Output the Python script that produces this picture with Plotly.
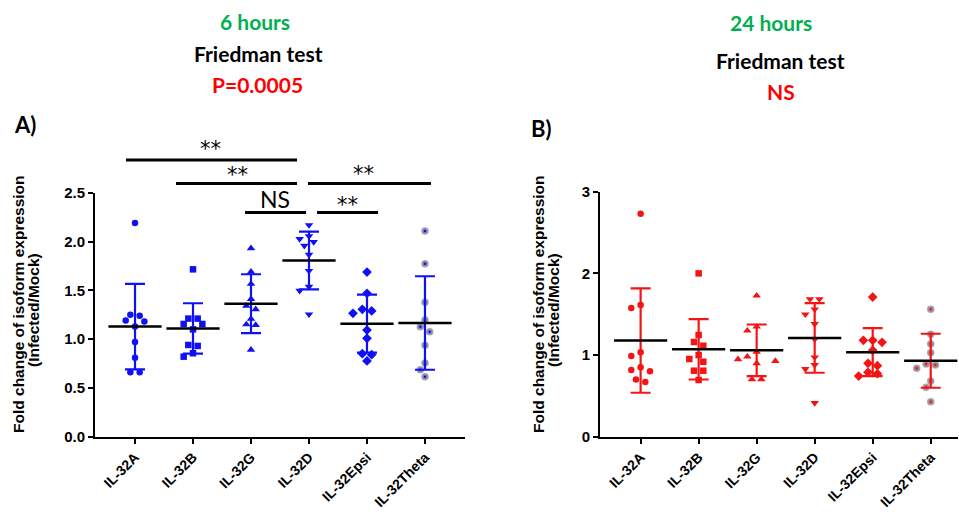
import numpy as np
import plotly.graph_objects as go

W, H = 959, 512

categories = ["IL-32A", "IL-32B", "IL-32G", "IL-32D", "IL-32Epsi", "IL-32Theta"]

# 6 hours post infection: fold change (infected / mock), 10 donors per isoform
h6_il32a = [2.19, 1.25, 1.24, 1.19, 1.18, 1.13, 0.97, 0.81, 0.66, 0.66]
h6_il32b = [1.715, 1.21, 1.21, 1.155, 1.155, 1.10, 0.94, 0.93, 0.855, 0.82]
h6_il32g = [1.93, 1.69, 1.565, 1.41, 1.34, 1.305, 1.206, 1.15, 1.144, 0.89]
h6_il32d = [2.169, 2.056, 2.026, 1.995, 1.957, 1.865, 1.70, 1.537, 1.496, 1.254]
h6_il32epsi = [1.687, 1.469, 1.305, 1.288, 1.264, 1.093, 1.008, 0.85, 0.84, 0.776]
h6_il32theta = [2.107, 1.773, 1.377, 1.196, 1.127, 1.076, 0.936, 0.755, 0.687, 0.615]

# 24 hours post infection
h24_il32a = [2.73, 1.613, 1.576, 1.033, 0.988, 0.85, 0.817, 0.80, 0.70, 0.67]
h24_il32b = [2.0, 1.245, 1.16, 1.114, 1.0, 0.951, 0.918, 0.808, 0.808, 0.694]
h24_il32g = [1.727, 1.347, 1.298, 1.04, 0.98, 0.948, 0.927, 0.899, 0.703, 0.703]
h24_il32d = [1.686, 1.686, 1.56, 1.498, 1.38, 1.192, 0.972, 0.878, 0.829, 0.413]
h24_il32epsi = [1.71, 1.18, 1.18, 1.156, 1.058, 0.899, 0.87, 0.789, 0.771, 0.743]
h24_il32theta = [1.56, 1.254, 1.135, 1.029, 0.89, 0.878, 0.837, 0.682, 0.605, 0.429]

h6_groups = [h6_il32a, h6_il32b, h6_il32g, h6_il32d, h6_il32epsi, h6_il32theta]
h24_groups = [h24_il32a, h24_il32b, h24_il32g, h24_il32d, h24_il32epsi, h24_il32theta]

y_ticks_6h = [0.0, 0.5, 1.0, 1.5, 2.0, 2.5]
y_ticks_24h = [0, 1, 2, 3]

BLUE = "#1010f5"
RED = "#f51414"
GREEN = "#00b050"
GREY = "rgba(150,150,160,0.85)"
FONT = "Liberation Sans"
TFONT = "Lato"

# subplot geometry (pixels)
L_X0, L_X1 = 95, 465
R_X0, R_X1 = 600, 958
Y_BOT, Y_TOP = 436.7, 192.7
Y_TOP_R = 191.7
L_XRANGE = [-0.69, 5.69]
R_XRANGE = [-0.70, 5.47]
L_YRANGE = [0, 2.5]
R_YRANGE = [0, 3]


def px2x(p):
    return p / W


def px2y(p):
    return 1 - p / H


def swarm(vals, px_per_val, px_per_cat, unit_px=4.67, min_dist=7.0, row_tol=2.5):
    """Symmetric beeswarm offsets (category units) for a column of points."""
    order = sorted(range(len(vals)), key=lambda i: -vals[i])
    ys = [v * px_per_val for v in vals]
    placed = []
    off = [0.0] * len(vals)

    def free(cands, ypx):
        for c, y in zip(cands, ypx):
            for pc, pyy in placed:
                if ((c - pc) * unit_px) ** 2 + (y - pyy) ** 2 < min_dist ** 2:
                    return False
        return True

    k = 0
    while k < len(order):
        row = [order[k]]
        while k + len(row) < len(order) and ys[row[0]] - ys[order[k + len(row)]] < row_tol:
            row.append(order[k + len(row)])
        m = len(row)
        ypx = [ys[i] for i in row]
        if m == 1:
            seq = [0] + [s * sg for s in range(1, 12) for sg in (-1, 1)]
            cands = [0]
            for c in seq:
                if free([c], ypx):
                    cands = [c]
                    break
        else:
            base = [2 * (j - (m - 1) / 2) for j in range(m)]
            cands = base
            for s in range(12):
                trial = [b + (s if b > 0 else (-s if b < 0 else 0)) for b in base]
                if free(trial, ypx):
                    cands = trial
                    break
        for i, c in zip(row, cands):
            off[i] = c * unit_px / px_per_cat
            placed.append((c, ys[i]))
        k += m
    return off


symbols = ["circle", "square", "triangle-up", "triangle-down", "diamond", "circle"]
sizes = [6.5, 6.5, 7.5, 7.5, 7.5, 5]

fig = go.Figure()


def add_panel(groups, color, xa, ya, px_per_val, px_per_cat):
    for i, vals in enumerate(groups):
        offs = swarm(vals, px_per_val, px_per_cat)
        xs = [i + o for o in offs]
        if i == 5:
            mk = dict(symbol="circle", size=sizes[i], color=color,
                      line=dict(width=2.5, color=GREY))
        else:
            mk = dict(symbol=symbols[i], size=sizes[i], color=color, line=dict(width=0))
        fig.add_trace(go.Scatter(x=xs, y=vals, mode="markers", marker=mk,
                                 xaxis=xa, yaxis=ya, showlegend=False,
                                 cliponaxis=False, hoverinfo="y"))
        mean = float(np.mean(vals))
        sd = float(np.std(vals, ddof=1))
        # mean line with +/- SD whiskers
        fig.add_trace(go.Scatter(
            x=[i], y=[mean], mode="markers", xaxis=xa, yaxis=ya, showlegend=False,
            cliponaxis=False,
            marker=dict(symbol="line-ew", size=38, color="black",
                        line=dict(width=2.5, color="black")),
            error_y=dict(type="data", array=[sd], visible=True, color=color,
                         thickness=2.2, width=10),
        ))


l_ppv = (Y_BOT - Y_TOP) / (L_YRANGE[1] - L_YRANGE[0])
l_ppc = (L_X1 - L_X0) / (L_XRANGE[1] - L_XRANGE[0])
r_ppv = (Y_BOT - Y_TOP_R) / (R_YRANGE[1] - R_YRANGE[0])
r_ppc = (R_X1 - R_X0) / (R_XRANGE[1] - R_XRANGE[0])

add_panel(h6_groups, BLUE, "x", "y", l_ppv, l_ppc)
add_panel(h24_groups, RED, "x2", "y2", r_ppv, r_ppc)

axis_common = dict(showline=True, linecolor="black", linewidth=2, ticks="outside",
                   ticklen=5, tickwidth=2, tickcolor="black", showgrid=False,
                   zeroline=False, fixedrange=True, automargin=False)
xtick_font = dict(family=FONT, size=14, color="black", weight="bold")
ytick_font = dict(family=FONT, size=15, color="black", weight="bold")

fig.update_layout(
    width=W, height=H, autosize=False, showlegend=False,
    margin=dict(l=0, r=0, t=0, b=0, pad=0, autoexpand=False),
    paper_bgcolor="white", plot_bgcolor="white",
    xaxis=dict(domain=[px2x(L_X0), px2x(L_X1)], range=L_XRANGE, anchor="y",
               tickvals=list(range(6)), ticktext=categories, tickangle=-45,
               tickfont=xtick_font, **axis_common),
    yaxis=dict(domain=[px2y(Y_BOT), px2y(Y_TOP)], range=L_YRANGE, anchor="x",
               tickvals=y_ticks_6h, tickformat=".1f", tickfont=ytick_font,
               **axis_common),
    xaxis2=dict(domain=[px2x(R_X0), px2x(R_X1)], range=R_XRANGE, anchor="y2",
                tickvals=list(range(6)), ticktext=categories, tickangle=-45,
                tickfont=xtick_font, **axis_common),
    yaxis2=dict(domain=[px2y(Y_BOT), px2y(Y_TOP_R)], range=R_YRANGE, anchor="x2",
                tickvals=y_ticks_24h, tickfont=ytick_font, **axis_common),
)

ann = []


def text(x, y, s, size, color="black", family=TFONT, weight="bold", angle=0):
    ann.append(dict(x=px2x(x), y=px2y(y), xref="paper", yref="paper", text=s,
                    showarrow=False, xanchor="center", yanchor="middle",
                    textangle=angle,
                    font=dict(family=family, size=size, color=color, weight=weight)))


# panel headings
text(255, 21, "6 hours", 21, GREEN)
text(258, 53, "Friedman test", 21)
text(257.5, 84, "P=0.0005", 21, "#ff0000")
text(771, 22, "24 hours", 21, GREEN)
text(780, 60, "Friedman test", 21)
text(781, 91, "NS", 21, "#ff0000")
text(25, 124, "A)", 22)
text(541, 128, "B)", 22)

# y-axis titles
for cx1, cx2 in [(18, 33), (538, 553)]:
    text(cx1, 304, "Fold change of isoform expression", 15.5, family=FONT, angle=-90)
    text(cx2, 310, "(Infected/Mock)", 15.5, family=FONT, angle=-90)

# pairwise comparison brackets (pixel extents) and their labels
brackets = [
    (126, 297, 160, "**", 210, 149),
    (176, 297, 183.5, "**", 237, 175),
    (308, 431, 183.5, "**", 363, 174),
    (245, 306, 212.5, "NS", 275, 199),
    (317, 378, 212.5, "**", 347, 205),
]
shapes = []
for x0, x1, yb, lab, tx, ty in brackets:
    shapes.append(dict(type="line", xref="paper", yref="paper",
                       x0=px2x(x0), x1=px2x(x1), y0=px2y(yb), y1=px2y(yb),
                       line=dict(color="black", width=3)))
    if lab == "NS":
        text(tx, ty, lab, 23, weight="normal")
    else:
        text(tx, ty, lab, 21, family="DejaVu Sans", weight="normal")

fig.update_layout(annotations=ann, shapes=shapes)

fig.write_html("out.html")
